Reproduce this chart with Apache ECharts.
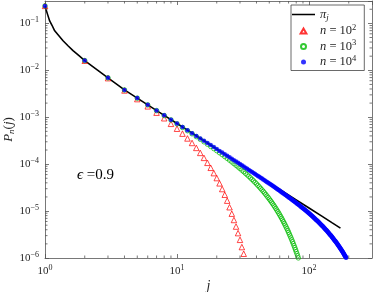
<!DOCTYPE html>
<html><head><meta charset="utf-8">
<script src="https://cdn.jsdelivr.net/npm/echarts@6/dist/echarts.min.js"></script>
<style>html,body{margin:0;padding:0;background:#fff;}#c{width:374px;height:292px;}</style>
</head><body><div id="c"></div>
<script>
// ---- data ----
const seriesNames = ['pi', 'n2', 'n3', 'n4'];
// black line pi_j
const piJ = [1, 1.01, 1.025, 1.05, 1.085, 1.13, 1.184, 1.26, 1.37, 1.5, 1.63, 1.8, 2, 2.5, 3, 4, 5, 6, 8, 10, 13, 16, 20, 25, 32, 40, 50, 63, 80, 100, 125, 150, 173];
const piVals = [0.236, 0.213, 0.185, 0.150, 0.113, 0.0912, 0.0695, 0.0565, 0.0427, 0.0330, 0.0262, 0.0207, 0.0161, 0.0101, 0.0069, 3.82e-3, 2.555e-3, 1.839e-3, 1.096e-3, 7.34e-4, 4.575e-4, 3.148e-4, 2.107e-4, 1.410e-4, 9.04e-5, 6.05e-5, 4.05e-5, 2.672e-5, 1.737e-5, 1.163e-5, 7.78e-6, 5.60e-6, 4.34e-6];
// n = 10^2, values at j = 1, 2, 3, ...
const redVals = [0.236, 0.0160, 0.0068, 3.72e-3, 2.434e-3, 1.707e-3, 1.250e-3, 9.51e-4, 7.24e-4, 5.69e-4,
  4.47e-4, 3.53e-4, 2.83e-4, 2.22e-4, 1.738e-4, 1.361e-4, 1.067e-4, 8.36e-5, 6.44e-5, 5.05e-5,
  3.90e-5, 2.95e-5, 2.23e-5, 1.667e-5, 1.208e-5, 8.80e-6, 6.46e-6, 4.68e-6, 3.39e-6, 2.44e-6,
  1.71e-6, 1.233e-6];
// n = 10^3
const greenVals = [0.236, 0.0161, 0.0069, 3.81e-3, 2.55e-3, 1.83e-3, 1.385e-3, 1.086e-3, 8.76e-4, 7.22e-4,
  6.06e-4, 5.155e-4, 4.44e-4, 3.86e-4, 3.39e-4, 2.996e-4, 2.667e-4, 2.384e-4, 2.143e-4, 1.934e-4,
  1.752e-4, 1.594e-4, 1.453e-4, 1.328e-4, 1.217e-4, 1.117e-4, 1.027e-4, 9.46e-5, 8.73e-5, 8.07e-5,
  7.46e-5, 6.91e-5, 6.39e-5, 5.93e-5, 5.50e-5, 5.10e-5, 4.74e-5, 4.40e-5, 4.09e-5, 3.80e-5,
  3.53e-5, 3.28e-5, 3.045e-5, 2.83e-5, 2.63e-5, 2.44e-5, 2.27e-5, 2.10e-5, 1.95e-5, 1.81e-5,
  1.68e-5, 1.556e-5, 1.441e-5, 1.335e-5, 1.234e-5, 1.141e-5, 1.054e-5, 9.75e-6, 8.99e-6, 8.29e-6,
  7.64e-6, 7.04e-6, 6.48e-6, 5.95e-6, 5.47e-6, 5.02e-6, 4.60e-6, 4.22e-6, 3.86e-6, 3.53e-6,
  3.22e-6, 2.94e-6, 2.68e-6, 2.44e-6, 2.22e-6, 2.02e-6, 1.834e-6, 1.664e-6, 1.508e-6, 1.364e-6,
  1.233e-6, 1.114e-6, 1.004e-6];
// n = 10^4
const blueVals = [0.236, 0.0161, 0.0069, 3.82e-3, 2.555e-3, 1.839e-3, 1.394e-3, 1.096e-3, 8.87e-4, 7.34e-4,
  6.18e-4, 5.28e-4, 4.575e-4, 4.00e-4, 3.535e-4, 3.148e-4, 2.822e-4, 2.546e-4, 2.310e-4, 2.096e-4,
  1.918e-4, 1.764e-4, 1.627e-4, 1.505e-4, 1.398e-4, 1.301e-4, 1.214e-4, 1.136e-4, 1.066e-4, 1.002e-4,
  9.43e-5, 8.90e-5, 8.41e-5, 7.96e-5, 7.54e-5, 7.16e-5, 6.80e-5, 6.47e-5, 6.17e-5, 5.88e-5,
  5.62e-5, 5.37e-5, 5.14e-5, 4.92e-5, 4.72e-5, 4.52e-5, 4.34e-5, 4.17e-5, 4.01e-5, 3.86e-5,
  3.715e-5, 3.58e-5, 3.45e-5, 3.33e-5, 3.21e-5, 3.10e-5, 2.995e-5, 2.893e-5, 2.796e-5, 2.704e-5,
  2.618e-5, 2.534e-5, 2.455e-5, 2.378e-5, 2.305e-5, 2.235e-5, 2.167e-5, 2.102e-5, 2.041e-5, 1.981e-5,
  1.923e-5, 1.868e-5, 1.816e-5, 1.764e-5, 1.714e-5, 1.667e-5, 1.621e-5, 1.577e-5, 1.535e-5, 1.493e-5,
  1.453e-5, 1.415e-5, 1.377e-5, 1.342e-5, 1.307e-5, 1.273e-5, 1.240e-5, 1.208e-5, 1.178e-5, 1.148e-5,
  1.120e-5, 1.092e-5, 1.064e-5, 1.038e-5, 1.012e-5, 9.88e-6, 9.63e-6, 9.40e-6, 9.17e-6, 8.95e-6,
  8.74e-6, 8.53e-6, 8.33e-6, 8.13e-6, 7.93e-6, 7.74e-6, 7.56e-6, 7.38e-6, 7.21e-6, 7.04e-6,
  6.88e-6, 6.72e-6, 6.56e-6, 6.41e-6, 6.26e-6, 6.11e-6, 5.97e-6, 5.83e-6, 5.70e-6, 5.56e-6,
  5.44e-6, 5.31e-6, 5.19e-6, 5.07e-6, 4.95e-6, 4.84e-6, 4.73e-6, 4.62e-6, 4.51e-6, 4.41e-6,
  4.31e-6, 4.21e-6, 4.11e-6, 4.02e-6, 3.93e-6, 3.84e-6, 3.75e-6, 3.66e-6, 3.58e-6, 3.50e-6,
  3.42e-6, 3.34e-6, 3.26e-6, 3.18e-6, 3.11e-6, 3.04e-6, 2.97e-6, 2.90e-6, 2.83e-6, 2.77e-6,
  2.70e-6, 2.64e-6, 2.58e-6, 2.52e-6, 2.46e-6, 2.40e-6, 2.34e-6, 2.29e-6, 2.24e-6, 2.18e-6,
  2.13e-6, 2.08e-6, 2.03e-6, 1.98e-6, 1.94e-6, 1.89e-6, 1.85e-6, 1.80e-6, 1.76e-6, 1.715e-6,
  1.67e-6, 1.63e-6, 1.59e-6, 1.55e-6, 1.52e-6, 1.48e-6, 1.44e-6, 1.41e-6, 1.37e-6, 1.34e-6,
  1.31e-6, 1.27e-6, 1.24e-6, 1.21e-6, 1.18e-6, 1.15e-6, 1.12e-6, 1.09e-6, 1.07e-6, 1.04e-6,
  1.01e-6];
const xRange = [1, 300];
const yRange = [1e-6, 0.3];
// minor tick positions (2..9 in each decade)
const xMinorTicks = [2, 3, 4, 5, 6, 7, 8, 9, 20, 30, 40, 50, 60, 70, 80, 90, 200];
const yMinorTicks = [2e-6, 3e-6, 4e-6, 5e-6, 6e-6, 7e-6, 8e-6, 9e-6,
  2e-5, 3e-5, 4e-5, 5e-5, 6e-5, 7e-5, 8e-5, 9e-5,
  2e-4, 3e-4, 4e-4, 5e-4, 6e-4, 7e-4, 8e-4, 9e-4,
  2e-3, 3e-3, 4e-3, 5e-3, 6e-3, 7e-3, 8e-3, 9e-3,
  2e-2, 3e-2, 4e-2, 5e-2, 6e-2, 7e-2, 8e-2, 9e-2, 0.2];

// ---- chart ----
const SERIF = '"Liberation Serif","DejaVu Serif",serif';
const TXT = '#262626';
const AX = '#555';
const withJ = vals => vals.map((v, i) => [i + 1, v]);

function powLabel(v) {
  const l = Math.log10(v), e = Math.round(l);
  if (Math.abs(l - e) > 1e-6) return '';
  return '{b|10}{s|' + (e < 0 ? '\u2212' + (-e) : e) + '}';
}
const labelRich = {
  b: { fontFamily: SERIF, fontSize: 11, color: TXT },
  s: { fontFamily: SERIF, fontSize: 8, color: TXT, padding: [0, 0, 7, 0] }
};
const tickStyle = { inside: true, length: 4, lineStyle: { color: AX, width: 0.8 } };
const lineStyle = { color: AX, width: 0.8 };

function mkAxis(range, pos, labels, extra) {
  return Object.assign({
    type: 'log', logBase: 10, min: range[0], max: range[1], position: pos,
    axisLine: { show: true, lineStyle: lineStyle },
    axisTick: tickStyle, minorTick: { show: false },
    splitLine: { show: false }, minorSplitLine: { show: false },
    nameMoveOverlap: false,
    axisLabel: labels ? { formatter: powLabel, rich: labelRich, margin: 6, showMaxLabel: false } : { show: false }
  }, extra || {});
}

const legendText = {
  pi: '{i|\u03c0}{sub|j}',
  n2: '{i|n} = 10{s|2}',
  n3: '{i|n} = 10{s|3}',
  n4: '{i|n} = 10{s|4}'
};

function minorTickSeries(vals, isX) {
  return {
    type: 'custom', silent: true, clip: false, z: 10,
    data: vals.map(v => isX ? [v, yRange[0]] : [xRange[0], v]),
    encode: { x: 0, y: 1 },
    renderItem: (params, api) => {
      const st = { stroke: AX, lineWidth: 0.8 };
      if (isX) {
        const v = api.value(0);
        const b = api.coord([v, yRange[0]]), t = api.coord([v, yRange[1]]);
        return { type: 'group', children: [
          { type: 'line', shape: { x1: b[0], y1: b[1], x2: b[0], y2: b[1] - 2.5 }, style: st },
          { type: 'line', shape: { x1: t[0], y1: t[1], x2: t[0], y2: t[1] + 2.5 }, style: st }
        ] };
      }
      const v = api.value(1);
      const l = api.coord([xRange[0], v]), r = api.coord([xRange[1], v]);
      return { type: 'group', children: [
        { type: 'line', shape: { x1: l[0], y1: l[1], x2: l[0] + 2.5, y2: l[1] }, style: st },
        { type: 'line', shape: { x1: r[0], y1: r[1], x2: r[0] - 2.5, y2: r[1] }, style: st }
      ] };
    }
  };
}

const option = {
  animation: false,
  backgroundColor: '#fff',
  grid: { left: 45, right: 2, top: 1, bottom: 34, containLabel: false, outerBoundsMode: 'none' },
  xAxis: [
    mkAxis(xRange, 'bottom', true, {
      name: 'j', nameLocation: 'middle', nameGap: 21,
      nameTextStyle: { fontFamily: SERIF, fontStyle: 'italic', fontSize: 14, color: TXT }
    }),
    mkAxis(xRange, 'top', false)
  ],
  yAxis: [
    mkAxis(yRange, 'left', true, {
      name: '{i|P}{sub|n}{r|(}{i|j}{r|)}', nameLocation: 'middle', nameGap: 29,
      nameTextStyle: {
        rich: {
          i: { fontFamily: SERIF, fontStyle: 'italic', fontSize: 13, color: TXT },
          r: { fontFamily: SERIF, fontSize: 13, color: TXT },
          sub: { fontFamily: SERIF, fontStyle: 'italic', fontSize: 9, color: TXT, padding: [5, 0, 0, 0] }
        }
      }
    }),
    mkAxis(yRange, 'right', false)
  ],
  legend: {
    data: [
      { name: 'pi', icon: 'path://M0,0H30V2H0Z' },
      { name: 'n2', icon: 'path://M5,0L10,8.66L0,8.66Z' },
      { name: 'n3', icon: 'circle' },
      { name: 'n4', icon: 'circle' }
    ],
    orient: 'vertical', left: 291, top: 5,
    padding: [3, 8, 2, 1], itemGap: 1, itemWidth: 23, itemHeight: 5, symbolKeepAspect: true,
    backgroundColor: '#fff', borderColor: '#444', borderWidth: 0.8, borderRadius: 0,
    formatter: n => legendText[n],
    textStyle: {
      color: TXT,
      rich: {
        i: { fontFamily: SERIF, fontStyle: 'italic', fontSize: 12.5, color: TXT },
        s: { fontFamily: SERIF, fontSize: 8.5, color: TXT, padding: [0, 0, 7, 0] },
        sub: { fontFamily: SERIF, fontStyle: 'italic', fontSize: 9, color: TXT, padding: [6, 0, 0, 0] }
      },
      fontFamily: SERIF, fontSize: 12.5
    }
  },
  graphic: [{
    type: 'text', left: 77, top: 168,
    style: {
      text: '{i|\u03f5} =0.9',
      rich: { i: { fontFamily: SERIF, fontStyle: 'italic', fontSize: 15, fill: '#000' } },
      font: '15px ' + SERIF, fill: '#000'
    }
  }],
  series: [
    {
      name: 'pi', type: 'line', symbol: 'none',
      data: piJ.map((j, i) => [j, piVals[i]]),
      lineStyle: { color: '#000', width: 1.6 }, itemStyle: { color: '#000' }, z: 2
    },
    {
      name: 'n2', type: 'scatter', symbol: 'triangle', symbolSize: 5.5, data: withJ(redVals),
      itemStyle: { color: 'rgba(255,255,255,0)', borderColor: '#ff0000', borderWidth: 0.9 }, z: 3
    },
    {
      name: 'n3', type: 'scatter', symbol: 'circle', symbolSize: 4.5, data: withJ(greenVals),
      itemStyle: { color: 'rgba(255,255,255,0)', borderColor: '#00bb00', borderWidth: 0.9 }, z: 4
    },
    {
      name: 'n4', type: 'scatter', symbol: 'circle', symbolSize: 4.5, data: withJ(blueVals),
      itemStyle: { color: '#0000ff' }, z: 5
    },
    minorTickSeries(xMinorTicks, true),
    minorTickSeries(yMinorTicks, false)
  ]
};
const chart = echarts.init(document.getElementById('c'), null, { renderer: 'canvas' });
chart.setOption(option);
</script>
</body></html>
